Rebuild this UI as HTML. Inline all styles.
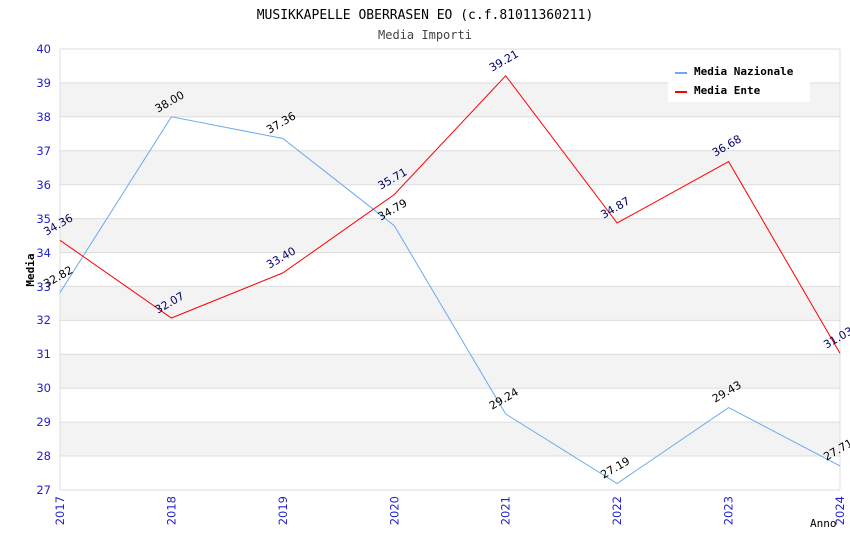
<!DOCTYPE html><html><head><style>body{margin:0;background:#fff}</style></head><body>
<svg width="850" height="550" xmlns="http://www.w3.org/2000/svg" font-family="DejaVu Sans, sans-serif">
<text x="425" y="19" text-anchor="middle" font-family="DejaVu Sans Mono, monospace" font-size="13">MUSIKKAPELLE OBERRASEN EO (c.f.81011360211)</text>
<text x="425" y="39" text-anchor="middle" font-family="DejaVu Sans Mono, monospace" font-size="12" fill="#444">Media Importi</text>
<g fill="#f3f3f3">
<rect x="60" y="82.9" width="780" height="33.9"/><rect x="60" y="150.8" width="780" height="33.9"/><rect x="60" y="218.6" width="780" height="33.9"/><rect x="60" y="286.4" width="780" height="33.9"/><rect x="60" y="354.3" width="780" height="33.9"/><rect x="60" y="422.1" width="780" height="33.9"/>
</g>
<g stroke="#ddd" stroke-width="1">
<line x1="60" x2="840" y1="49" y2="49"/><line x1="60" x2="840" y1="82.9" y2="82.9"/><line x1="60" x2="840" y1="116.8" y2="116.8"/><line x1="60" x2="840" y1="150.8" y2="150.8"/><line x1="60" x2="840" y1="184.7" y2="184.7"/><line x1="60" x2="840" y1="218.6" y2="218.6"/><line x1="60" x2="840" y1="252.5" y2="252.5"/><line x1="60" x2="840" y1="286.4" y2="286.4"/><line x1="60" x2="840" y1="320.4" y2="320.4"/><line x1="60" x2="840" y1="354.3" y2="354.3"/><line x1="60" x2="840" y1="388.2" y2="388.2"/><line x1="60" x2="840" y1="422.1" y2="422.1"/><line x1="60" x2="840" y1="456" y2="456"/><line x1="60" x2="840" y1="490" y2="490"/>
<line x1="60" x2="60" y1="49" y2="490"/><line x1="840" x2="840" y1="49" y2="490"/>
</g>
<g fill="#22c" font-size="11.5" text-anchor="end">
<text x="51" y="53">40</text><text x="51" y="87">39</text><text x="51" y="121">38</text><text x="51" y="155">37</text><text x="51" y="189">36</text><text x="51" y="223">35</text><text x="51" y="257">34</text><text x="51" y="291">33</text><text x="51" y="324">32</text><text x="51" y="358">31</text><text x="51" y="392">30</text><text x="51" y="426">29</text><text x="51" y="460">28</text><text x="51" y="494">27</text>
</g>
<g fill="#22c" font-size="11.5" text-anchor="end">
<text transform="translate(64,496) rotate(-90)">2017</text><text transform="translate(175.4,496) rotate(-90)">2018</text><text transform="translate(286.9,496) rotate(-90)">2019</text><text transform="translate(398.3,496) rotate(-90)">2020</text><text transform="translate(509.7,496) rotate(-90)">2021</text><text transform="translate(621.1,496) rotate(-90)">2022</text><text transform="translate(732.6,496) rotate(-90)">2023</text><text transform="translate(844,496) rotate(-90)">2024</text>
</g>
<text transform="translate(34,270) rotate(-90)" text-anchor="middle" font-family="DejaVu Sans Mono, monospace" font-size="11" font-weight="bold">Media</text>
<text x="810" y="527" font-family="DejaVu Sans Mono, monospace" font-size="11">Anno</text>
<polyline fill="none" stroke="#6aaaf0" stroke-width="1" points="60,292.6 171.4,116.8 282.9,138.5 394.3,225.7 505.7,414 617.1,483.5 728.6,407.6 840,465.9"/>
<polyline fill="none" stroke="#f00" stroke-width="1" points="60,240.3 171.4,318 282.9,272.9 394.3,194.5 505.7,75.8 617.1,223 728.6,161.6 840,353.3"/>
<g font-size="11" text-anchor="middle" fill="#000">
<text transform="translate(60,280) rotate(-30)">32.82</text><text transform="translate(171.4,105) rotate(-30)">38.00</text><text transform="translate(282.9,126) rotate(-30)">37.36</text><text transform="translate(394.3,213) rotate(-30)">34.79</text><text transform="translate(505.7,402) rotate(-30)">29.24</text><text transform="translate(617.1,471) rotate(-30)">27.19</text><text transform="translate(728.6,395) rotate(-30)">29.43</text><text transform="translate(840,453) rotate(-30)">27.71</text>
</g>
<g font-size="11" text-anchor="middle" fill="#006">
<text transform="translate(60,228) rotate(-30)">34.36</text><text transform="translate(171.4,306) rotate(-30)">32.07</text><text transform="translate(282.9,261) rotate(-30)">33.40</text><text transform="translate(394.3,182) rotate(-30)">35.71</text><text transform="translate(505.7,64) rotate(-30)">39.21</text><text transform="translate(617.1,211) rotate(-30)">34.87</text><text transform="translate(728.6,149) rotate(-30)">36.68</text><text transform="translate(840,341) rotate(-30)">31.03</text>
</g>
<rect x="668" y="60" width="142" height="42" fill="#fff"/>
<line x1="675" x2="687" y1="73" y2="73" stroke="#6aaaf0" stroke-width="2"/>
<line x1="675" x2="687" y1="92" y2="92" stroke="#f00" stroke-width="2"/>
<g font-family="DejaVu Sans Mono, monospace" font-size="11" font-weight="bold">
<text x="694" y="75">Media Nazionale</text><text x="694" y="94">Media Ente</text>
</g>
</svg></body></html>
